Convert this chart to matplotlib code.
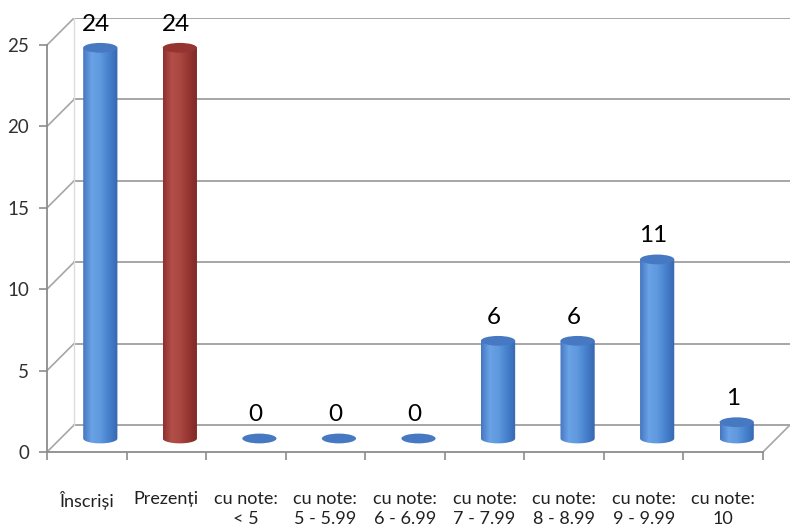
import numpy as np
import matplotlib.pyplot as plt
from matplotlib.patches import Ellipse, PathPatch
from matplotlib.path import Path
from matplotlib.colors import LinearSegmentedColormap

plt.rcParams['font.family'] = ['Lato', 'DejaVu Sans']

# data
labels_top = ['Înscriși', 'Prezenți', 'cu note:', 'cu note:', 'cu note:',
              'cu note:', 'cu note:', 'cu note:', 'cu note:']
labels_bottom = ['', '', '< 5', '5 - 5.99', '6 - 6.99', '7 - 7.99',
                 '8 - 8.99', '9 - 9.99', '10']
values = [24, 24, 0, 0, 0, 6, 6, 11, 1]
bar_kind = ['blue', 'red', 'blue', 'blue', 'blue', 'blue', 'blue', 'blue', 'blue']
yticks = [0, 5, 10, 15, 20, 25]

# depth offset of the 3d look (data units)
dx = 0.34
dy = 1.66
n = len(values)

fig = plt.figure(figsize=(7.9, 5.28), dpi=100)
ax = fig.add_axes([47 / 790, 76 / 528, 1 - 47 / 790, (510 - 76) / 528])
ax.set_xlim(0, n + dx)
ax.set_ylim(0, 25 + dy)

grid_c = '#a6a6a6'
# back wall gridlines + side diagonals
for t in yticks:
    ax.plot([dx, n + dx], [t + dy, t + dy], color=grid_c, lw=1.4, zorder=1)
    ax.plot([0, dx], [t, t + dy], color=grid_c, lw=1.2, zorder=1)
ax.plot([dx, dx], [dy, 25 + dy], color='#dcdcdc', lw=1.0, zorder=1)
# floor edges
ax.plot([n, n + dx], [0, dy], color=grid_c, lw=1.2, zorder=1, clip_on=False)

cmaps = {
    'blue': LinearSegmentedColormap.from_list('b', ['#4576c0', '#6aa2e6', '#5e98de', '#4680cc', '#3767b0']),
    'red': LinearSegmentedColormap.from_list('r', ['#8e302d', '#b24f4a', '#a9463f', '#943530', '#7c2926']),
}
tops = {'blue': '#4779c2', 'red': '#953431'}

w = 0.43
eh = 0.6
grad = np.linspace(0, 1, 256).reshape(1, -1)
for i, (v, kind) in enumerate(zip(values, bar_kind)):
    cx = i + 0.5 + dx / 2
    base = dy / 2
    top = base + v
    if v > 0:
        # body: rectangle with rounded (half-ellipse) bottom
        th = np.linspace(np.pi, 2 * np.pi, 40)
        xs = list(cx + w / 2 * np.cos(th)) + [cx + w / 2, cx - w / 2]
        ys = list(base + eh / 2 * np.sin(th)) + [top, top]
        path = Path(np.column_stack([xs, ys]), closed=False)
        patch = PathPatch(path, facecolor='none', edgecolor='none', zorder=3)
        ax.add_patch(patch)
        im = ax.imshow(grad, cmap=cmaps[kind], aspect='auto', zorder=3,
                       extent=[cx - w / 2, cx + w / 2, base - eh, top])
        im.set_clip_path(patch)
    ax.add_patch(Ellipse((cx, top), w, eh, facecolor=tops[kind],
                         edgecolor='none', zorder=4))
    ax.text(cx - 0.05, top + 0.8, str(v), ha='center', va='bottom',
            fontsize=17.5, color='black', zorder=5)

ax.set_xlim(0, n + dx)
ax.set_ylim(0, 25 + dy)

for s in ['top', 'right']:
    ax.spines[s].set_visible(False)
ax.spines['left'].set_bounds(0, 25)
ax.spines['bottom'].set_bounds(0, n)
ax.spines['left'].set_color('#8c8c8c')
ax.spines['bottom'].set_color('#8c8c8c')
ax.spines['left'].set_linewidth(1.3)
ax.spines['bottom'].set_linewidth(1.3)

ax.set_yticks(yticks)
ax.set_yticklabels([str(t) for t in yticks])
ax.tick_params(axis='y', length=6, width=1.2, color='#8c8c8c', pad=7,
               labelsize=13.5, labelcolor='#303030')

ax.set_xticks(np.arange(n + 1), minor=True)
ax.set_xticks(np.arange(n) + 0.5)
ax.set_xticklabels(labels_top)
ax.tick_params(axis='x', which='major', length=0, pad=28, labelsize=13,
               labelcolor='#202020')
ax.tick_params(axis='x', which='minor', length=6, width=1.2, color='#8c8c8c')
for i, lab in enumerate(labels_bottom):
    ax.text(i + 0.5, -4.1, lab, ha='center', va='center', fontsize=13,
            color='#202020', clip_on=False)

fig.savefig('out.png', dpi=100)
